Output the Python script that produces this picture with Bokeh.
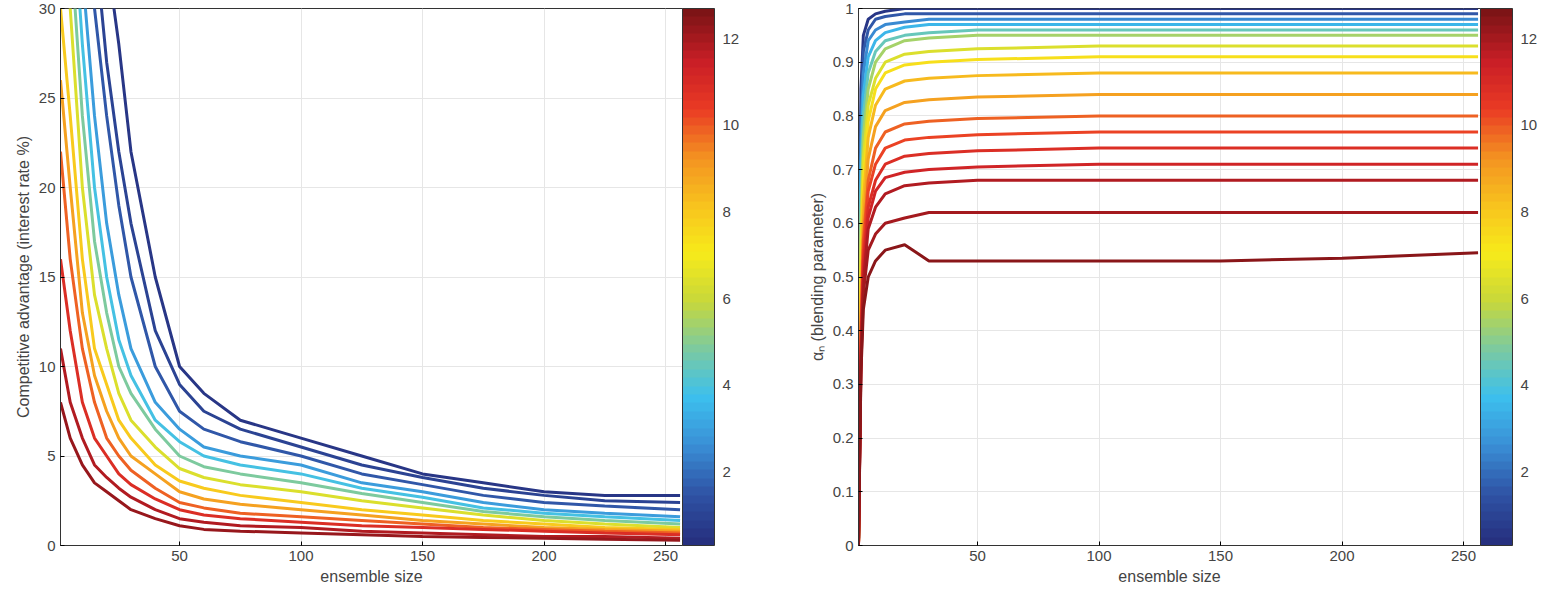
import numpy as np
from bokeh.plotting import figure
from bokeh.layouts import row
from bokeh.models import ColorBar, LinearColorMapper, FixedTicker, Range1d
from bokeh.embed import file_html
from bokeh.resources import INLINE

# ---- data (key points) ----
left_x = [1, 5, 10, 15, 20, 25, 30, 40, 50, 60, 75, 100, 125, 150, 175, 200, 225, 256]
left_levels = [0.5, 1.0, 1.5, 3.0, 4.0, 5.0, 6.5, 8.0, 9.0, 10.0, 11.0, 12.0, 12.5]
left_vals = [
    [40, 40, 40, 38, 33, 28, 22, 15, 10, 8.5, 7, 6, 5, 4, 3.5, 3, 2.8, 2.8],
    [40, 40, 40, 34, 27, 22, 18, 12, 9, 7.5, 6.5, 5.5, 4.5, 3.8, 3.2, 2.8, 2.5, 2.4],
    [40, 40, 38, 30, 24, 19, 15, 10, 7.5, 6.5, 5.8, 5, 4, 3.4, 2.8, 2.4, 2.2, 2.0],
    [40, 40, 32, 24, 18, 14, 11, 8, 6.5, 5.5, 5, 4.5, 3.5, 3, 2.4, 2, 1.8, 1.6],
    [40, 38, 28, 20, 15, 11.5, 9.5, 7, 5.8, 5, 4.5, 4, 3.2, 2.7, 2.1, 1.8, 1.6, 1.4],
    [38, 34, 24, 17, 13, 10, 8.5, 6.5, 5, 4.4, 4, 3.5, 2.9, 2.4, 1.9, 1.6, 1.4, 1.2],
    [35, 30, 20, 14, 11, 8.5, 7, 5.5, 4.3, 3.8, 3.4, 3, 2.5, 2.1, 1.7, 1.4, 1.2, 1.0],
    [30, 24, 16, 11, 9, 7, 6, 4.5, 3.6, 3.2, 2.8, 2.4, 2, 1.7, 1.4, 1.2, 1.0, 0.9],
    [26, 20, 13, 9.5, 7.5, 6, 5, 4, 3, 2.6, 2.3, 2, 1.7, 1.4, 1.2, 1.0, 0.9, 0.8],
    [22, 16, 11, 8, 6, 5, 4.2, 3.2, 2.4, 2.1, 1.8, 1.6, 1.4, 1.2, 1.0, 0.9, 0.8, 0.7],
    [16, 12, 8, 6, 5, 4, 3.4, 2.6, 2, 1.7, 1.5, 1.3, 1.1, 1.0, 0.9, 0.8, 0.7, 0.6],
    [11, 8, 6, 4.5, 3.8, 3.2, 2.7, 2, 1.5, 1.3, 1.1, 1, 0.8, 0.7, 0.6, 0.5, 0.5, 0.4],
    [8, 6, 4.5, 3.5, 3, 2.5, 2, 1.5, 1.1, 0.9, 0.8, 0.7, 0.6, 0.5, 0.45, 0.4, 0.35, 0.3],
]

right_x = [1, 2, 3, 5, 8, 12, 20, 30, 50, 100, 150, 200, 256]
right_levels = [0.5, 1.5, 2.5, 3.5, 4.5, 5.5, 6.5, 7.5, 8.5, 9.0, 10.0, 10.5, 11.0, 11.5, 12.0, 12.3, 12.6]
right_vals = [
    [0, 0.85, 0.95, 0.98, 0.99, 0.995, 1.0, 1.0, 1.0, 1.0, 1.0, 1.0, 1.0],
    [0, 0.8, 0.92, 0.96, 0.98, 0.985, 0.99, 0.99, 0.99, 0.99, 0.99, 0.99, 0.99],
    [0, 0.75, 0.88, 0.94, 0.96, 0.97, 0.975, 0.98, 0.98, 0.98, 0.98, 0.98, 0.98],
    [0, 0.7, 0.84, 0.91, 0.94, 0.955, 0.965, 0.97, 0.97, 0.97, 0.97, 0.97, 0.97],
    [0, 0.65, 0.8, 0.88, 0.92, 0.94, 0.95, 0.955, 0.96, 0.96, 0.96, 0.96, 0.96],
    [0, 0.6, 0.76, 0.85, 0.9, 0.925, 0.94, 0.945, 0.95, 0.95, 0.95, 0.95, 0.95],
    [0, 0.55, 0.72, 0.82, 0.87, 0.9, 0.915, 0.92, 0.925, 0.93, 0.93, 0.93, 0.93],
    [0, 0.5, 0.68, 0.79, 0.85, 0.88, 0.895, 0.9, 0.905, 0.91, 0.91, 0.91, 0.91],
    [0, 0.45, 0.64, 0.76, 0.82, 0.85, 0.865, 0.87, 0.875, 0.88, 0.88, 0.88, 0.88],
    [0, 0.42, 0.6, 0.72, 0.78, 0.81, 0.825, 0.83, 0.835, 0.84, 0.84, 0.84, 0.84],
    [0, 0.4, 0.57, 0.68, 0.74, 0.77, 0.785, 0.79, 0.795, 0.8, 0.8, 0.8, 0.8],
    [0, 0.38, 0.55, 0.66, 0.71, 0.74, 0.755, 0.76, 0.765, 0.77, 0.77, 0.77, 0.77],
    [0, 0.36, 0.53, 0.63, 0.68, 0.71, 0.725, 0.73, 0.735, 0.74, 0.74, 0.74, 0.74],
    [0, 0.35, 0.51, 0.61, 0.66, 0.685, 0.695, 0.7, 0.705, 0.71, 0.71, 0.71, 0.71],
    [0, 0.34, 0.49, 0.59, 0.63, 0.655, 0.67, 0.675, 0.68, 0.68, 0.68, 0.68, 0.68],
    [0, 0.33, 0.47, 0.55, 0.58, 0.6, 0.61, 0.62, 0.62, 0.62, 0.62, 0.62, 0.62],
    [0, 0.32, 0.44, 0.5, 0.53, 0.55, 0.56, 0.53, 0.53, 0.53, 0.53, 0.535, 0.545],
]

cbar_ticks = [2, 4, 6, 8, 10, 12]
cmin, cmax = 0.3, 12.7

# ---- palette (styling): anchors sampled from the reference colour bar ----
anchors = ["#26307f", "#2f54a6", "#3a8fd6", "#3cc0ee", "#7ccaa0", "#c8d83a",
           "#f7ea1a", "#f8c21e", "#f39121", "#ea3a24", "#c81e26", "#7d1416"]

def hx(h):
    return np.array([int(h[i:i + 2], 16) for i in (1, 3, 5)], dtype=float)

A = [hx(a) for a in anchors]
palette = []
for i in range(64):
    t = i / 63 * (len(A) - 1)
    k = min(int(t), len(A) - 2)
    f = t - k
    c = A[k] * (1 - f) + A[k + 1] * f
    palette.append("#%02x%02x%02x" % tuple(int(round(v)) for v in c))
mapper = LinearColorMapper(palette=palette, low=cmin, high=cmax)

def col(c):
    i = int((c - cmin) / (cmax - cmin) * 63)
    return palette[max(0, min(63, i))]

FONT = "Liberation Sans"

def make_fig(ylab, yr, yticks, xs, levels, vals, border_right):
    p = figure(frame_width=622, frame_height=537, output_backend="svg", toolbar_location=None,
               x_range=Range1d(1, 257), y_range=Range1d(*yr),
               min_border_left=60, min_border_right=border_right, min_border_top=8, min_border_bottom=45)
    for c, v in zip(levels, vals):
        p.line(xs, v, line_color=col(c), line_width=3)
    p.xaxis.ticker = FixedTicker(ticks=[50, 100, 150, 200, 250])
    p.yaxis.ticker = FixedTicker(ticks=yticks)
    p.xaxis.axis_label = "ensemble size"
    p.yaxis.axis_label = ylab
    for ax in (p.xaxis, p.yaxis):
        ax.axis_label_text_font = FONT
        ax.axis_label_text_font_style = "normal"
        ax.axis_label_text_font_size = "16px"
        ax.major_label_text_font = FONT
        ax.major_label_text_font_size = "15px"
        ax.axis_line_color = "#333333"
        ax.major_tick_in = 4
        ax.major_tick_out = 0
        ax.minor_tick_line_color = None
        ax.axis_label_standoff = 4
    p.grid.grid_line_color = "#e6e6e6"
    p.outline_line_color = "#333333"
    cb = ColorBar(color_mapper=mapper, ticker=FixedTicker(ticks=cbar_ticks), width=32,
                  major_label_text_font=FONT, major_label_text_font_size="15px",
                  major_tick_line_color=None, bar_line_color="#333333",
                  padding=0, margin=15, label_standoff=8)
    p.add_layout(cb, "right")
    return p

p1 = make_fig("Competitive advantage (interest rate %)", (0, 30), [0, 5, 10, 15, 20, 25, 30],
              left_x, left_levels, left_vals, 116)
p2 = make_fig("αₙ (blending parameter)", (0, 1), [round(0.1 * i, 1) for i in range(11)],
              right_x, right_levels, right_vals, 70)
p2.yaxis.major_label_overrides = {0: "0", 1: "1"}

layout = row(p1, p2)
open("out.html", "w").write(file_html(layout, INLINE))
